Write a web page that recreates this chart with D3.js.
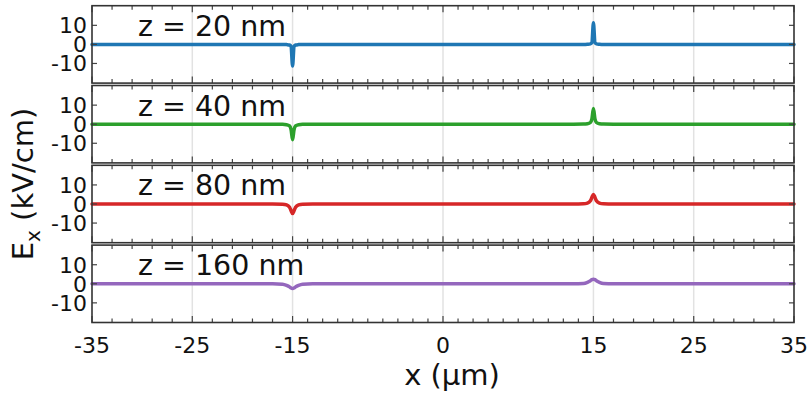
<!DOCTYPE html>
<html>
<head>
<meta charset="utf-8">
<script src="https://cdn.jsdelivr.net/npm/d3@7"></script>
<style>
  body { margin: 0; background: #fff; }
  text { font-family: 'DejaVu Sans', sans-serif; fill: #111; }
</style>
</head>
<body>
<div id="chart"></div>
<script>
// positions along x (µm), shared by every panel
const xPositions = [-35, -20, -17, -16, -15.6, -15.3, -15.15, -15, -14.85, -14.7, -14.4, -14, -13, -10, 0,
  10, 13, 14, 14.4, 14.7, 14.85, 15, 15.15, 15.3, 15.6, 16, 17, 20, 35];

// Ex (kV/cm) for each height z
const ex20 = [0, 0, 0, 0, -0.1, -0.3, -1.0, -11.3, -1.0, -0.3, -0.1, 0, 0, 0, 0,
  0, 0, 0, 0.1, 0.3, 1.0, 11.3, 1.0, 0.3, 0.1, 0, 0, 0, 0];
const ex40 = [0, 0, 0, -0.05, -0.25, -0.9, -2.8, -8.2, -2.8, -0.9, -0.25, -0.05, 0, 0, 0,
  0, 0, 0.05, 0.25, 0.9, 2.8, 8.2, 2.8, 0.9, 0.25, 0.05, 0, 0, 0];
const ex80 = [0, 0, 0, -0.1, -0.5, -1.7, -3.5, -5.0, -3.5, -1.7, -0.5, -0.1, 0, 0, 0,
  0, 0, 0.1, 0.5, 1.7, 3.5, 5.0, 3.5, 1.7, 0.5, 0.1, 0, 0, 0];
const ex160 = [0, 0, 0, -0.2, -0.8, -1.6, -2.2, -2.4, -2.2, -1.6, -0.8, -0.2, 0, 0, 0,
  0, 0, 0.2, 0.8, 1.6, 2.2, 2.4, 2.2, 1.6, 0.8, 0.2, 0, 0, 0];

const panelLabels = ['z = 20 nm', 'z = 40 nm', 'z = 80 nm', 'z = 160 nm'];
const panelColors = ['#1f77b4', '#2ca02c', '#d62728', '#9467bd'];
const panelSeries = [ex20, ex40, ex80, ex160];

const xMajorTicks = [-35, -25, -15, 0, 15, 25, 35];
const xMinorTicks = [-33, -31, -29, -27, -23, -21, -19, -17,
  -13.5, -12, -10.5, -9, -7.5, -6, -4.5, -3, -1.5,
  1.5, 3, 4.5, 6, 7.5, 9, 10.5, 12, 13.5,
  17, 19, 21, 23, 27, 29, 31, 33];
const yTicks = [-10, 0, 10];

const W = 810, H = 394;
const left = 92, right = 794;
const panelTop0 = 5.7, panelStep = 79.8, panelH = 77.4;

const svg = d3.select('#chart').append('svg')
  .attr('width', W)
  .attr('height', H);

const x = d3.scaleLinear().domain([-35, 35]).range([left, right]);

const line = d3.line()
  .x(d => x(d[0]))
  .curve(d3.curveMonotoneX);

panelSeries.forEach((values, i) => {
  const top = panelTop0 + i * panelStep;
  const y = d3.scaleLinear().domain([-20.3, 20.3]).range([top + panelH, top]);
  const g = svg.append('g').attr('class', 'panel');

  // vertical grid
  g.selectAll('.grid')
    .data(xMajorTicks.slice(1, -1))
    .enter().append('line')
    .attr('x1', d => x(d)).attr('x2', d => x(d))
    .attr('y1', top).attr('y2', top + panelH)
    .attr('stroke', '#e2e2e2')
    .attr('stroke-width', 1.5);

  // series line
  const pts = xPositions.map((xv, k) => [xv, values[k]]);
  g.append('path')
    .datum(pts)
    .attr('d', line.y(d => y(d[1])))
    .attr('fill', 'none')
    .attr('stroke', panelColors[i])
    .attr('stroke-width', 3.5)
    .attr('stroke-linejoin', 'round')
    .attr('stroke-linecap', 'round');

  // ticks on x (top and bottom, inward)
  const tickData = xMajorTicks.map(d => ({ v: d, len: 6.5 }))
    .concat(xMinorTicks.map(d => ({ v: d, len: 4 })));
  g.selectAll('.xt-top')
    .data(tickData)
    .enter().append('line')
    .attr('x1', d => x(d.v)).attr('x2', d => x(d.v))
    .attr('y1', top).attr('y2', d => top + d.len)
    .attr('stroke', '#444').attr('stroke-width', 1.2);
  g.selectAll('.xt-bot')
    .data(tickData)
    .enter().append('line')
    .attr('x1', d => x(d.v)).attr('x2', d => x(d.v))
    .attr('y1', top + panelH).attr('y2', d => top + panelH - d.len)
    .attr('stroke', '#444').attr('stroke-width', 1.2);

  // ticks on y (left and right, inward)
  g.selectAll('.yt-l')
    .data(yTicks)
    .enter().append('line')
    .attr('x1', left).attr('x2', left + 5)
    .attr('y1', d => y(d)).attr('y2', d => y(d))
    .attr('stroke', '#444').attr('stroke-width', 1.2);
  g.selectAll('.yt-r')
    .data(yTicks)
    .enter().append('line')
    .attr('x1', right).attr('x2', right - 5)
    .attr('y1', d => y(d)).attr('y2', d => y(d))
    .attr('stroke', '#444').attr('stroke-width', 1.2);

  // y tick labels
  g.selectAll('.yl')
    .data(yTicks)
    .enter().append('text')
    .attr('x', left - 5)
    .attr('y', d => y(d))
    .attr('dy', '0.36em')
    .attr('text-anchor', 'end')
    .attr('font-size', '22px')
    .text(d => d);

  // frame
  g.append('rect')
    .attr('x', left).attr('y', top)
    .attr('width', right - left).attr('height', panelH)
    .attr('fill', 'none')
    .attr('stroke', '#333')
    .attr('stroke-width', 1.6);

  // panel label
  g.append('text')
    .attr('x', 138)
    .attr('y', top + 30)
    .attr('font-size', '28.5px')
    .text(panelLabels[i]);
});

// x tick labels
const bottom = panelTop0 + 3 * panelStep + panelH;
svg.selectAll('.xl')
  .data(xMajorTicks)
  .enter().append('text')
  .attr('x', d => x(d))
  .attr('y', bottom + 30)
  .attr('text-anchor', 'middle')
  .attr('font-size', '22px')
  .text(d => d);

// axis titles
svg.append('text')
  .attr('x', 452)
  .attr('y', 385)
  .attr('text-anchor', 'middle')
  .attr('font-size', '29px')
  .text('x (µm)');

const yTitle = svg.append('text')
  .attr('transform', 'translate(33,184) rotate(-90)')
  .attr('text-anchor', 'middle')
  .attr('font-size', '29px');
yTitle.append('tspan').text('E');
yTitle.append('tspan').attr('font-size', '20px').attr('dy', 7).text('x');
yTitle.append('tspan').attr('dy', -7).text(' (kV/cm)');
</script>
</body>
</html>
